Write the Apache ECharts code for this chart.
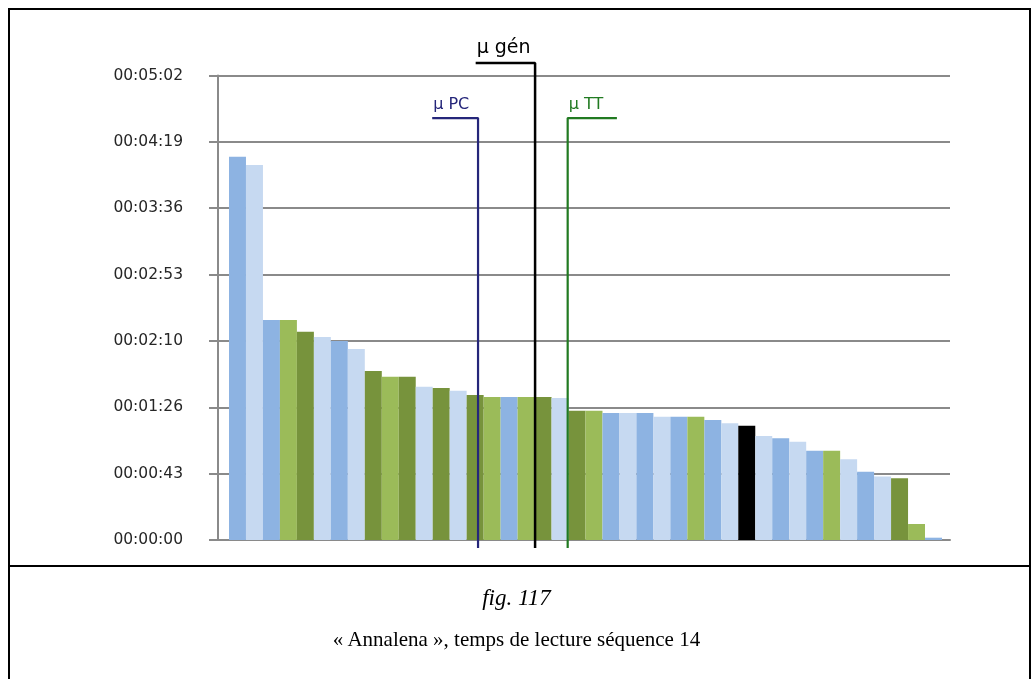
<!DOCTYPE html>
<html>
<head>
<meta charset="utf-8">
<script src="https://cdn.jsdelivr.net/npm/echarts@6/dist/echarts.min.js"></script>
<style>
  html, body { margin:0; padding:0; background:#fff; width:1033px; height:679px; overflow:hidden; }
  #frame { position:absolute; left:8px; top:8px; width:1023px; height:700px; border:2px solid #000; box-sizing:border-box; }
  #sep { position:absolute; left:8px; top:565px; width:1023px; height:2px; background:#000; }
  #chart { position:absolute; left:0; top:0; width:1033px; height:679px; }
  .cap { position:absolute; left:0; width:1033px; text-align:center; font-family:"Liberation Serif","Times New Roman",serif; color:#000; }
  #fig { top:585px; font-size:23px; font-style:italic; }
  #title { top:627px; font-size:21px; }
</style>
</head>
<body>
<div id="frame"></div>
<div id="sep"></div>
<div id="chart"></div>
<div class="cap" id="fig">fig. 117</div>
<div class="cap" id="title">« Annalena », temps de lecture séquence 14</div>
<script>
// reading times in seconds, sorted as in the figure
const readingTimes = [249.5, 244.1, 143.2, 143.2, 135.6, 132.2, 129.6, 124.3, 110.0, 106.3,
  106.3, 99.8, 99.0, 97.2, 94.4, 93.1, 93.1, 93.1, 93.1, 92.4,
  84.2, 84.2, 82.7, 82.7, 82.7, 80.3, 80.3, 80.3, 78.1, 76.0,
  74.4, 67.7, 66.2, 64.0, 58.1, 58.1, 52.5, 44.5, 41.3, 40.2,
  10.4, 1.5];
// group of each reader (colour key)
const readerGroups = ['B','LB','B','G','DG','LB','B','LB','DG','G',
  'DG','LB','DG','LB','DG','G','B','G','DG','LB',
  'DG','G','B','LB','B','LB','B','G','B','LB',
  'K','LB','B','LB','B','G','LB','B','LB','DG',
  'G','B'];
const categories = readingTimes.map((v, i) => 'L' + (i + 1));
// y axis ticks: every 0.0005 day = 43.2 s
const tickInterval = 43.2;
const tickMax = 302.4;
// mean markers: position along the sorted readers (bar units), bracket top value (s), arm length (bars)
const meanLabels = ['μ PC', 'μ gén', 'μ TT'];
const meanPositions = [14.67, 18.03, 19.95];
const meanTops = [274.7, 310.5, 274.7];
const meanArms = [-2.7, -3.5, 2.9];
const meanBottom = -5.2;

const groupColors = { B:'#8db3e2', LB:'#c6d9f1', G:'#9bbb59', DG:'#77933c', K:'#000000' };
const meanColors = ['#25267a', '#000000', '#217a21'];
const meanFont = [16, 19, 16];

function fmt(v) {
  const s = Math.round(v);
  const h = Math.floor(s / 3600), m = Math.floor((s % 3600) / 60), sec = s % 60;
  const p = n => String(n).padStart(2, '0');
  return p(h) + ':' + p(m) + ':' + p(sec);
}

const chart = echarts.init(document.getElementById('chart'), null, { renderer: 'canvas' });
const gridLine = '#8a8a8a';

const meanSeries = meanLabels.map((name, i) => {
  const pos = meanPositions[i];
  const armEnd = pos + meanArms[i];
  const labelCfg = { show: true, formatter: name, position: [0, 0], align: 'left', verticalAlign: 'bottom', offset: [1, -5], color: meanColors[i], fontSize: meanFont[i], fontFamily: 'DejaVu Sans' };
  const data = meanArms[i] < 0
    ? [{ value: [armEnd, meanTops[i]], label: labelCfg }, { value: [pos, meanTops[i]] }, { value: [pos, meanBottom] }]
    : [{ value: [armEnd, meanTops[i]] }, { value: [pos, meanTops[i]], label: labelCfg }, { value: [pos, meanBottom] }];
  return {
    type: 'line', xAxisIndex: 2, yAxisIndex: 2, clip: false, silent: true,
    symbol: 'circle', symbolSize: 0, z: 5,
    lineStyle: { color: meanColors[i], width: i === 1 ? 2.5 : 2.2 },
    itemStyle: { color: meanColors[i] },
    data: data
  };
});

chart.setOption({
  animation: false,
  grid: [
    { left: 218, right: 83, top: 75.5, bottom: 139, containLabel: false },
    { left: 229, right: 91, top: 75.5, bottom: 139, containLabel: false }
  ],
  xAxis: [
    { type: 'value', gridIndex: 0, min: 0, max: 1, axisLine: { show: true, onZero: false, lineStyle: { color: gridLine, width: 2 } }, axisTick: { show: false }, axisLabel: { show: false }, splitLine: { show: false } },
    { type: 'category', gridIndex: 1, data: categories, axisLine: { show: false }, axisTick: { show: false }, axisLabel: { show: false } },
    { type: 'value', gridIndex: 1, min: 0, max: categories.length, show: false, splitLine: { show: false } }
  ],
  yAxis: [
    { type: 'value', gridIndex: 0, min: 0, max: tickMax, interval: tickInterval,
      axisLine: { show: true, lineStyle: { color: gridLine, width: 2 } },
      axisTick: { show: true, inside: false, length: 9, lineStyle: { color: gridLine, width: 2 } },
      axisLabel: { formatter: fmt, margin: 35, color: '#262626', fontSize: 15.5, fontFamily: 'DejaVu Sans', verticalAlign: 'middle', padding: [0, 0, 11, 0] },
      splitLine: { show: true, lineStyle: { color: gridLine, width: 2 } } },
    { type: 'value', gridIndex: 0, min: 0, max: tickMax, interval: tickInterval, position: 'left',
      axisLine: { show: false }, axisTick: { show: true, inside: true, length: 9, lineStyle: { color: gridLine, width: 2 } },
      axisLabel: { show: false }, splitLine: { show: false } },
    { type: 'value', gridIndex: 1, min: 0, max: tickMax, show: false, splitLine: { show: false } }
  ],
  series: [
    { type: 'bar', xAxisIndex: 1, yAxisIndex: 2, barCategoryGap: '0%', silent: true, z: 3,
      data: readingTimes.map((v, i) => ({ value: v, itemStyle: { color: groupColors[readerGroups[i]] } })) },
    ...meanSeries
  ]
});
</script>
</body>
</html>
